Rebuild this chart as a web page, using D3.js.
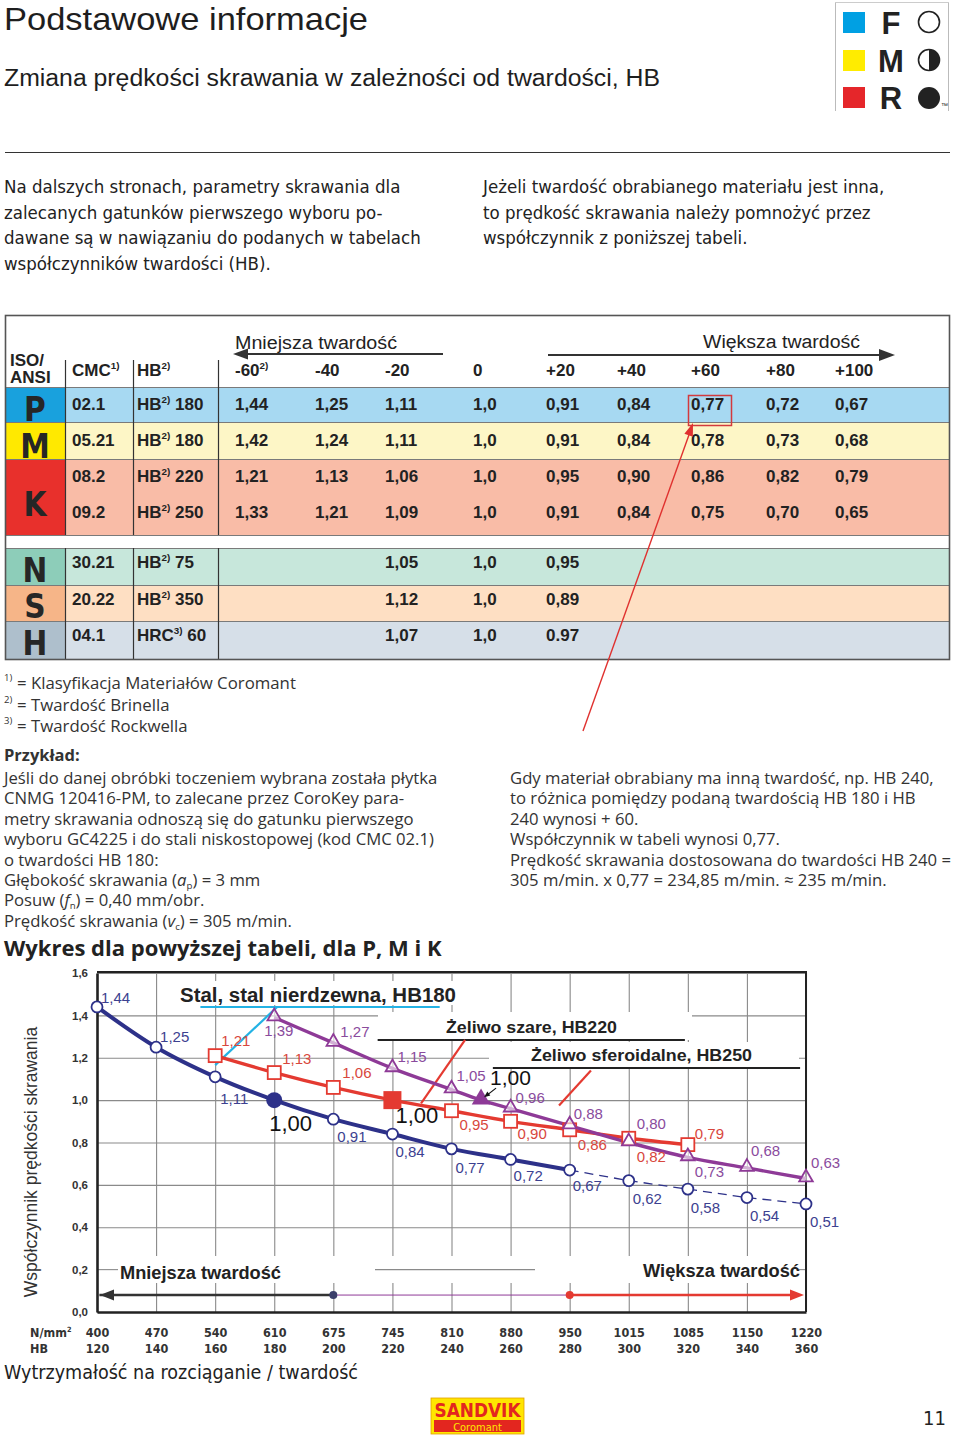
<!DOCTYPE html>
<html><head><meta charset="utf-8">
<script src="https://cdn.jsdelivr.net/npm/d3@7/dist/d3.min.js"></script>
<style>body{margin:0;background:#fff}svg{display:block}</style>
</head><body>
<svg id="page" width="960" height="1440"></svg>
<script>
// ---------------- DATA ----------------
const hbTicks   = [120,140,160,180,200,220,240,260,280,300,320,340,360];
const nmmTicks  = [400,470,540,610,675,745,810,880,950,1015,1085,1150,1220];
const yTicks    = [0,0.2,0.4,0.6,0.8,1.0,1.2,1.4,1.6];

// Stal, stal nierdzewna, HB180 (blue)
const steelHB   = [120,140,160,180,200,220,240,260,280,300,320,340,360];
const steelVal  = [1.44,1.25,1.11,1.00,0.91,0.84,0.77,0.72,0.67,0.62,0.58,0.54,0.51];
const steelRef  = 180;
const steelSolidTo = 280;
// Żeliwo szare, HB220 (red)
const greyHB    = [160,180,200,220,240,260,280,300,320];
const greyVal   = [1.21,1.13,1.06,1.00,0.95,0.90,0.86,0.82,0.79];
const greyRef   = 220;
// Żeliwo sferoidalne, HB250 (purple)
const nodHB     = [180,200,220,240,250,260,280,300,320,340,360];
const nodVal    = [1.39,1.27,1.15,1.05,1.00,0.96,0.88,0.80,0.73,0.68,0.63];
const nodRef    = 250;

// table
const tableCols   = ['-60','-40','-20','0','+20','+40','+60','+80','+100'];
const rowISO      = ['P','M','K','K','N','S','H'];
const rowCMC      = ['02.1','05.21','08.2','09.2','30.21','20.22','04.1'];
const rowHBName   = ['HB','HB','HB','HB','HB','HB','HRC'];
const rowHBSup    = ['2)','2)','2)','2)','2)','2)','3)'];
const rowHBValue  = ['180','180','220','250','75','350','60'];
const rowValues   = [
  ['1,44','1,25','1,11','1,0','0,91','0,84','0,77','0,72','0,67'],
  ['1,42','1,24','1,11','1,0','0,91','0,84','0,78','0,73','0,68'],
  ['1,21','1,13','1,06','1,0','0,95','0,90','0,86','0,82','0,79'],
  ['1,33','1,21','1,09','1,0','0,91','0,84','0,75','0,70','0,65'],
  [null,null,'1,05','1,0','0,95',null,null,null,null],
  [null,null,'1,12','1,0','0,89',null,null,null,null],
  [null,null,'1,07','1,0','0.97',null,null,null,null]
];

// ---------------- LAYOUT / STYLE ----------------
const SANS   = "'Liberation Sans', Arial, Helvetica, sans-serif";
const NARROW = "'Liberation Sans Narrow', 'DejaVu Sans Condensed', 'Liberation Sans', sans-serif";
const BODY   = "'Open Sans', 'Liberation Sans', sans-serif";
const C_BLUE = '#2d3189', C_BLUE_T = '#3c4190';
const C_RED  = '#e43a31', C_RED_T = '#d8473d';
const C_PUR  = '#8e3a97', C_PUR_T = '#8a4b9d';
const C_CYAN = '#23b2e4';
const C_GRID = '#8a8a8a';

const svg = d3.select('#page');

function T(g, x, y, s, o = {}) {
  const t = g.append('text').attr('x', x).attr('y', y)
    .attr('font-family', o.ff || SANS).attr('font-size', o.fs || 16)
    .attr('fill', o.fill || '#222');
  if (s !== null) t.text(s);
  if (o.fw) t.attr('font-weight', o.fw);
  if (o.anchor) t.attr('text-anchor', o.anchor);
  if (o.tl) t.attr('textLength', o.tl).attr('lengthAdjust', 'spacingAndGlyphs');
  return t;
}
// rich text: segments string or {t, sup, sub, it, fw}
function R(g, x, y, segs, o = {}) {
  const fs = o.fs || 16;
  const t = T(g, x, y, null, o);
  let shift = 0;
  segs.forEach(s => {
    if (typeof s === 'string') s = { t: s };
    const target = s.sup ? -fs * 0.42 : s.sub ? fs * 0.18 : 0;
    const ts = t.append('tspan').text(s.t).attr('dy', target - shift);
    shift = target;
    if (s.sup || s.sub) ts.attr('font-size', fs * 0.58);
    if (s.it) ts.attr('font-style', 'italic');
    if (s.fw) ts.attr('font-weight', s.fw);
  });
  return t;
}
function arrowHead(g, tip, from, len, half, fill) {
  const dx = tip[0] - from[0], dy = tip[1] - from[1], L = Math.hypot(dx, dy);
  const ux = dx / L, uy = dy / L, bx = tip[0] - ux * len, by = tip[1] - uy * len;
  g.append('path').attr('d', `M${tip[0]},${tip[1]}L${bx - uy * half},${by + ux * half}L${bx + uy * half},${by - ux * half}Z`)
    .attr('fill', fill);
}

// ---------------- PAGE HEADER ----------------
T(svg, 4, 30, 'Podstawowe informacje', { fs: 32, fill: '#1e1e1e', tl: 364 });
T(svg, 4, 86, 'Zmiana prędkości skrawania w zależności od twardości, HB', { fs: 23.5, fill: '#1e1e1e', tl: 656 });

// FMR logo
const lg = svg.append('g');
lg.append('line').attr('x1', 835.5).attr('x2', 835.5).attr('y1', 2).attr('y2', 111).attr('stroke', '#bbb');
lg.append('line').attr('x1', 948.5).attr('x2', 948.5).attr('y1', 2).attr('y2', 111).attr('stroke', '#bbb');
lg.append('line').attr('x1', 835).attr('x2', 949).attr('y1', 2.5).attr('y2', 2.5).attr('stroke', '#ccc');
[['#00a0e3', 12, 'F'], ['#ffec00', 50, 'M'], ['#e5262a', 87, 'R']].forEach(([c, yy, L]) => {
  lg.append('rect').attr('x', 843).attr('y', yy).attr('width', 22).attr('height', 21).attr('fill', c);
  T(lg, 891, yy + 22, L, { fs: 31, fw: 'bold', anchor: 'middle', fill: '#222' });
});
lg.append('circle').attr('cx', 929).attr('cy', 22).attr('r', 10.5).attr('fill', '#fff').attr('stroke', '#222').attr('stroke-width', 1.6);
lg.append('circle').attr('cx', 929).attr('cy', 60).attr('r', 10.5).attr('fill', '#fff').attr('stroke', '#222').attr('stroke-width', 1.6);
lg.append('path').attr('d', 'M929,49.5 A10.5,10.5 0 0 1 929,70.5 Z').attr('fill', '#222');
lg.append('circle').attr('cx', 929).attr('cy', 98).attr('r', 11).attr('fill', '#222');
T(lg, 941, 108, '™', { fs: 7, fill: '#222' });

svg.append('line').attr('x1', 5).attr('x2', 950).attr('y1', 152.5).attr('y2', 152.5).attr('stroke', '#333').attr('stroke-width', 1.2);

// intro paragraphs
const introL = ['Na dalszych stronach, parametry skrawania dla', 'zalecanych gatunków pierwszego wyboru po-',
  'dawane są w nawiązaniu do podanych w tabelach', 'współczynników twardości (HB).'];
const introR = ['Jeżeli twardość obrabianego materiału jest inna,', 'to prędkość skrawania należy pomnożyć przez',
  'współczynnik z poniższej tabeli.'];
introL.forEach((s, i) => T(svg, 4, 193 + i * 25.7, s, { ff: NARROW, fs: 18.5, fill: '#222' }));
introR.forEach((s, i) => T(svg, 483, 193 + i * 25.7, s, { ff: NARROW, fs: 18.5, fill: '#222' }));

// ---------------- TABLE ----------------
const tb = svg.append('g');
const rowBands = [
  [387, 422, '#a7d9f2', '#19a1dd', 'P', 421],
  [422, 459, '#fdf6c6', '#ffe900', 'M', 458],
  [459, 535, '#f9bca7', '#e8302c', 'K', 516],
  [548, 585, '#c7e7db', '#8dcdb9', 'N', 582],
  [585, 621, '#fedfc3', '#f6b588', 'S', 618],
  [621, 659, '#d6dfe8', '#aebfcc', 'H', 655]
];
rowBands.forEach(([a, b, bg, isoC, L, base]) => {
  tb.append('rect').attr('x', 5).attr('y', a).attr('width', 945).attr('height', b - a).attr('fill', bg);
  tb.append('rect').attr('x', 5).attr('y', a).attr('width', 60).attr('height', b - a).attr('fill', isoC);
  T(tb, 35, base, L, { ff: NARROW, fs: 33, fw: 'bold', anchor: 'middle', fill: '#262626' });
  [a, b].forEach(yy => tb.append('line').attr('x1', 5).attr('x2', 950).attr('y1', yy + 0.5).attr('y2', yy + 0.5).attr('stroke', '#7a7a7a').attr('stroke-width', 1));
});
[65, 133, 218].forEach(xx => {
  tb.append('line').attr('x1', xx + 0.5).attr('x2', xx + 0.5).attr('y1', 360).attr('y2', 535).attr('stroke', '#333').attr('stroke-width', 1.2);
  tb.append('line').attr('x1', xx + 0.5).attr('x2', xx + 0.5).attr('y1', 548).attr('y2', 659).attr('stroke', '#333').attr('stroke-width', 1.2);
});
tb.append('rect').attr('x', 5.5).attr('y', 315.5).attr('width', 944).attr('height', 344).attr('fill', 'none').attr('stroke', '#555').attr('stroke-width', 1.6);

// header
T(tb, 10, 366, 'ISO/', { fs: 17, fw: 'bold' });
T(tb, 10, 383, 'ANSI', { fs: 17, fw: 'bold' });
R(tb, 72, 376, ['CMC', { t: '1)', sup: true }], { fs: 17, fw: 'bold' });
R(tb, 137, 376, ['HB', { t: '2)', sup: true }], { fs: 17, fw: 'bold' });
const colX = [235, 315, 385, 473, 546, 617, 691, 766, 835];
tableCols.forEach((c, i) => {
  if (i === 0) R(tb, colX[i], 376, [c, { t: '2)', sup: true }], { fs: 17, fw: 'bold' });
  else T(tb, colX[i], 376, c, { fs: 17, fw: 'bold' });
});
T(tb, 235, 349, 'Mniejsza twardość', { fs: 18, fill: '#222', tl: 162 });
T(tb, 703, 348, 'Większa twardość', { fs: 18, fill: '#222', tl: 157 });
tb.append('line').attr('x1', 443).attr('x2', 245).attr('y1', 354).attr('y2', 354).attr('stroke', '#333').attr('stroke-width', 1.8);
arrowHead(tb, [233, 354], [443, 354], 15, 5.5, '#333');
tb.append('line').attr('x1', 548).attr('x2', 882).attr('y1', 355).attr('y2', 355).attr('stroke', '#333').attr('stroke-width', 1.8);
arrowHead(tb, [895, 355], [548, 355], 16, 6, '#333');

// rows
const rowCY = [404, 440, 476, 512, 562, 599, 635];
rowCMC.forEach((c, r) => {
  const by = rowCY[r] + 6;
  T(tb, 72, by, c, { fs: 17, fw: 'bold' });
  R(tb, 137, by, [rowHBName[r], { t: rowHBSup[r], sup: true }, ' ' + rowHBValue[r]], { fs: 17, fw: 'bold' });
  rowValues[r].forEach((v, i) => { if (v !== null) T(tb, colX[i], by, v, { fs: 17, fw: 'bold' }); });
});

// highlight box and pointer
tb.append('rect').attr('x', 688.5).attr('y', 395.5).attr('width', 43).attr('height', 30).attr('fill', 'none').attr('stroke', '#d33a3d').attr('stroke-width', 1.5);
tb.append('line').attr('x1', 583).attr('y1', 731).attr('x2', 690).attr('y2', 432).attr('stroke', '#e0312f').attr('stroke-width', 1.4);
arrowHead(tb, [693, 423], [583, 731], 13, 4.5, '#e0312f');

// ---------------- FOOTNOTES / EXAMPLE ----------------
const notes = [['1)', '= Klasyfikacja Materiałów Coromant'], ['2)', '= Twardość Brinella'], ['3)', '= Twardość Rockwella']];
notes.forEach(([s, t], i) => {
  T(svg, 4, 681 + i * 21.5, s, { ff: BODY, fs: 9.5, fill: '#333' });
  T(svg, 17, 689 + i * 21.5, t, { ff: BODY, fs: 16.8, fill: '#333' });
});
T(svg, 4, 761, 'Przykład:', { ff: BODY, fs: 16.5, fw: 'bold', fill: '#333' });
const exL = [
  ['Jeśli do danej obróbki toczeniem wybrana została płytka'],
  ['CNMG 120416-PM, to zalecane przez CoroKey para-'],
  ['metry skrawania odnoszą się do gatunku pierwszego'],
  ['wyboru GC4225 i do stali niskostopowej (kod CMC 02.1)'],
  ['o twardości HB 180:'],
  ['Głębokość skrawania (', { t: 'a', it: true }, { t: 'p', sub: true }, ') = 3 mm'],
  ['Posuw (', { t: 'f', it: true }, { t: 'n', sub: true }, ') = 0,40 mm/obr.'],
  ['Prędkość skrawania (', { t: 'v', it: true }, { t: 'c', sub: true }, ') = 305 m/min.']
];
exL.forEach((segs, i) => R(svg, 4, 784 + i * 20.4, segs, { ff: BODY, fs: 16.7, fill: '#333' }));
const exR = ['Gdy materiał obrabiany ma inną twardość, np. HB 240,', 'to różnica pomiędzy podaną twardością HB 180 i HB',
  '240 wynosi + 60.', 'Współczynnik w tabeli wynosi 0,77.', 'Prędkość skrawania dostosowana do twardości HB 240 =',
  '305 m/min. x 0,77 = 234,85 m/min. ≈ 235 m/min.'];
exR.forEach((s, i) => T(svg, 510, 784 + i * 20.4, s, { ff: BODY, fs: 16.7, fill: '#333' }));

T(svg, 4, 956, 'Wykres dla powyższej tabeli, dla P, M i K', { ff: BODY, fs: 22, fw: 'bold', fill: '#222' });

// ---------------- CHART ----------------
const x = d3.scaleLinear().domain([120, 360]).range([97, 806]);
const y = d3.scaleLinear().domain([0, 1.6]).range([1312, 973]);
const ch = svg.append('g');

// grid
ch.append('g').attr('transform', `translate(0,${y(0)})`)
  .call(d3.axisBottom(x).tickValues(hbTicks).tickSize(-(y(0) - y(1.6))).tickFormat(''))
  .call(g => g.select('.domain').remove())
  .call(g => g.selectAll('line').attr('stroke', C_GRID).attr('stroke-width', 1.1));
ch.append('g').attr('transform', `translate(${x(120)},0)`)
  .call(d3.axisLeft(y).tickValues(yTicks).tickSize(-(x(360) - x(120))).tickFormat(''))
  .call(g => g.select('.domain').remove())
  .call(g => g.selectAll('line').attr('stroke', C_GRID).attr('stroke-width', 1.1));

// white gaps in grid behind the captions
const wr = (x0, y0, x1, y1) => ch.append('rect').attr('x', x0).attr('y', y0).attr('width', x1 - x0).attr('height', y1 - y0).attr('fill', '#fff');
wr(176, 981, 460, 1005);
wr(378, 1012, 692, 1040);
wr(489, 1042, 799, 1067);
wr(98, 1256, 805, 1283);
[[97, 118], [375, 535], [799, 806]].forEach(([a, b]) =>
  ch.append('line').attr('x1', a).attr('x2', b).attr('y1', y(0.2)).attr('y2', y(0.2)).attr('stroke', C_GRID).attr('stroke-width', 1.1));

// axes lines
ch.append('line').attr('x1', x(120)).attr('x2', x(360)).attr('y1', y(1.6) - 1).attr('y2', y(1.6) - 1).attr('stroke', '#222').attr('stroke-width', 2);
ch.append('line').attr('x1', x(360)).attr('x2', x(360)).attr('y1', y(1.6) - 2).attr('y2', y(0)).attr('stroke', '#222').attr('stroke-width', 2);

// y axis
ch.append('g').attr('transform', `translate(${x(120)},0)`)
  .call(d3.axisLeft(y).tickValues(yTicks).tickSize(0).tickPadding(9).tickFormat(d => d3.format('.1f')(d).replace('.', ',')))
  .call(g => g.select('.domain').attr('stroke', '#222').attr('stroke-width', 2.6))
  .call(g => g.selectAll('text').attr('font-family', SANS).attr('font-size', 11.5).attr('font-weight', 'bold').attr('fill', '#333'));
// x axis rows
ch.append('g').attr('transform', `translate(0,${y(0)})`)
  .call(d3.axisBottom(x).tickValues(hbTicks).tickSize(0).tickPadding(16).tickFormat((d, i) => nmmTicks[i]))
  .call(g => g.select('.domain').attr('stroke', '#222').attr('stroke-width', 2.6))
  .call(g => g.selectAll('text').attr('font-family', NARROW).attr('font-size', 12.5).attr('font-weight', 'bold').attr('fill', '#333'));
ch.append('g').attr('transform', `translate(0,${y(0)})`)
  .call(d3.axisBottom(x).tickValues(hbTicks).tickSize(0).tickPadding(32).tickFormat(d => d))
  .call(g => g.select('.domain').remove())
  .call(g => g.selectAll('text').attr('font-family', NARROW).attr('font-size', 12.5).attr('font-weight', 'bold').attr('fill', '#333'));
R(ch, 30, 1337, ['N/mm', { t: '2', sup: true }], { ff: NARROW, fs: 12.5, fw: 'bold', fill: '#333' });
T(ch, 30, 1353, 'HB', { ff: NARROW, fs: 12.5, fw: 'bold', fill: '#333' });
T(ch, 0, 0, 'Współczynnik prędkości skrawania', { fs: 17.5, fill: '#333', anchor: 'middle' })
  .attr('transform', 'translate(37,1162) rotate(-90)');
T(svg, 4, 1379, 'Wytrzymałość na rozciąganie / twardość', { ff: NARROW, fs: 19.5, fill: '#222', tl: 354 });

// captions
T(ch, 180, 1002, 'Stal, stal nierdzewna, HB180', { fs: 19.5, fw: 'bold', fill: '#222', tl: 276 });
T(ch, 446, 1033, 'Żeliwo szare, HB220', { fs: 17, fw: 'bold', fill: '#222', tl: 171 });
T(ch, 531, 1061, 'Żeliwo sferoidalne, HB250', { fs: 17, fw: 'bold', fill: '#222', tl: 221 });
const seg = (a, b, c, w) => ch.append('line').attr('x1', x(a[0])).attr('y1', y(a[1])).attr('x2', x(b[0])).attr('y2', y(b[1])).attr('stroke', c).attr('stroke-width', w);
seg([155, 1.44], [236, 1.44], C_CYAN, 2);
seg([160, 1.165], [181, 1.44], C_CYAN, 2.2);
seg([215, 1.284], [319, 1.284], '#222', 2);
seg([229.7, 0.985], [244.6, 1.284], C_RED, 2.2);
seg([254, 1.152], [358, 1.152], '#222', 2);
seg([276.4, 0.975], [287.2, 1.14], C_RED, 2.2);

// bottom arrows
seg([120.8, 0.08], [200, 0.08], '#333', 2.6);
arrowHead(ch, [x(120) + 3, y(0.08)], [x(200), y(0.08)], 14, 5.5, '#333');
seg([200, 0.08], [280, 0.08], C_PUR, 1);
seg([280, 0.08], [357, 0.08], C_RED, 2.6);
arrowHead(ch, [x(360) - 2, y(0.08)], [x(280), y(0.08)], 14, 5.5, C_RED);
ch.append('circle').attr('cx', x(200)).attr('cy', y(0.08)).attr('r', 4).attr('fill', '#3b3f6b');
ch.append('circle').attr('cx', x(280)).attr('cy', y(0.08)).attr('r', 4).attr('fill', C_RED);
T(ch, 120, 1279, 'Mniejsza twardość', { fs: 18, fw: 'bold', fill: '#222', tl: 161 });
T(ch, 643, 1277, 'Większa twardość', { fs: 18, fw: 'bold', fill: '#222', tl: 157 });

// series
const line = d3.line().x(d => x(d[0])).y(d => y(d[1])).curve(d3.curveMonotoneX);
const steel = steelHB.map((h, i) => [h, steelVal[i]]);
const grey = greyHB.map((h, i) => [h, greyVal[i]]);
const nod = nodHB.map((h, i) => [h, nodVal[i]]);

ch.append('path').attr('d', line(steel.filter(d => d[0] <= steelSolidTo))).attr('fill', 'none').attr('stroke', C_BLUE).attr('stroke-width', 4);
ch.append('path').attr('d', d3.line().x(d => x(d[0])).y(d => y(d[1]))(steel.filter(d => d[0] >= steelSolidTo)))
  .attr('fill', 'none').attr('stroke', C_BLUE).attr('stroke-width', 1.3).attr('stroke-dasharray', '9,6');
ch.append('path').attr('d', line(grey)).attr('fill', 'none').attr('stroke', C_RED).attr('stroke-width', 3.4);
ch.append('path').attr('d', line(nod)).attr('fill', 'none').attr('stroke', C_PUR).attr('stroke-width', 3.4);

// markers
steel.forEach(d => {
  if (d[0] === steelRef) ch.append('circle').attr('cx', x(d[0])).attr('cy', y(d[1])).attr('r', 8).attr('fill', C_BLUE);
  else ch.append('circle').attr('cx', x(d[0])).attr('cy', y(d[1])).attr('r', 5.5).attr('fill', '#fff').attr('stroke', C_BLUE).attr('stroke-width', 1.8);
});
grey.forEach(d => {
  const s = d[0] === greyRef ? 18 : 13;
  const r = ch.append('rect').attr('x', x(d[0]) - s / 2).attr('y', y(d[1]) - s / 2).attr('width', s).attr('height', s);
  if (d[0] === greyRef) r.attr('fill', C_RED); else r.attr('fill', '#fff').attr('stroke', C_RED).attr('stroke-width', 1.8);
});
nod.forEach(d => {
  const big = d[0] === nodRef;
  const p = ch.append('path').attr('d', d3.symbol(d3.symbolTriangle, big ? 150 : 80)())
    .attr('transform', `translate(${x(d[0])},${y(d[1]) - 1})`);
  if (big) p.attr('fill', C_PUR); else p.attr('fill', '#fff').attr('fill-opacity', 0.6).attr('stroke', C_PUR).attr('stroke-width', 1.8);
});

// value labels (offsets are layout only)
const steelLab = [[4, -4], [4, -5], [5, 27], null, [4, 23], [3, 23], [4, 24], [3, 22], [3, 21], [4, 23], [3, 24], [3, 23], [4, 23]];
const greyLab  = [[6, -10], [8, -9], [9, -9], null, [8, 19], [7, 18], [8, 20], [8, 24], [7, -6]];
const nodLab   = [[-10, 19], [7, -6], [5, -6], [5, -9], null, [5, -6], [4, -7], [8, -14], [7, 20], [4, -12], [5, -11]];
const fmt = v => d3.format('.2f')(v).replace('.', ',');
const labels = (data, offs, col) => data.forEach((d, i) => {
  if (!offs[i]) return;
  T(ch, x(d[0]) + offs[i][0], y(d[1]) + offs[i][1], fmt(d[1]), { fs: 15, fill: col });
});
labels(steel, steelLab, C_BLUE_T);
labels(grey, greyLab, C_RED_T);
labels(nod, nodLab, C_PUR_T);
// reference "1,00" labels
T(ch, x(steelRef) - 5, y(1) + 31, fmt(1), { fs: 22, fill: '#111' });
T(ch, x(greyRef) + 3, y(1) + 23, fmt(1), { fs: 22, fill: '#111' });
T(ch, x(nodRef) + 9, y(1) - 15, fmt(1), { fs: 21, fill: '#111' });
ch.append('line').attr('x1', x(nodRef) + 15).attr('y1', y(1) - 12).attr('x2', x(nodRef) + 6).attr('y2', y(1) - 5).attr('stroke', '#111').attr('stroke-width', 1.2);
arrowHead(ch, [x(nodRef) + 3, y(1) - 3], [x(nodRef) + 15, y(1) - 12], 6, 2.5, '#111');

// ---------------- FOOTER ----------------
const sv = svg.append('g');
sv.append('rect').attr('x', 431).attr('y', 1398).attr('width', 93).attr('height', 36).attr('fill', '#ffe500').attr('stroke', '#e0a000').attr('stroke-width', 0.8);
T(sv, 477.5, 1417, 'SANDVIK', { ff: NARROW, fs: 19, fw: 'bold', fill: '#e3261f', anchor: 'middle', tl: 86 });
sv.append('rect').attr('x', 434).attr('y', 1420).attr('width', 87).attr('height', 12).attr('fill', '#e3261f');
T(sv, 477.5, 1430.5, 'Coromant', { ff: NARROW, fs: 11, fill: '#ffe500', anchor: 'middle' });
T(svg, 946, 1425, '11', { ff: NARROW, fs: 20, fill: '#222', anchor: 'end' });
</script>
</body></html>
